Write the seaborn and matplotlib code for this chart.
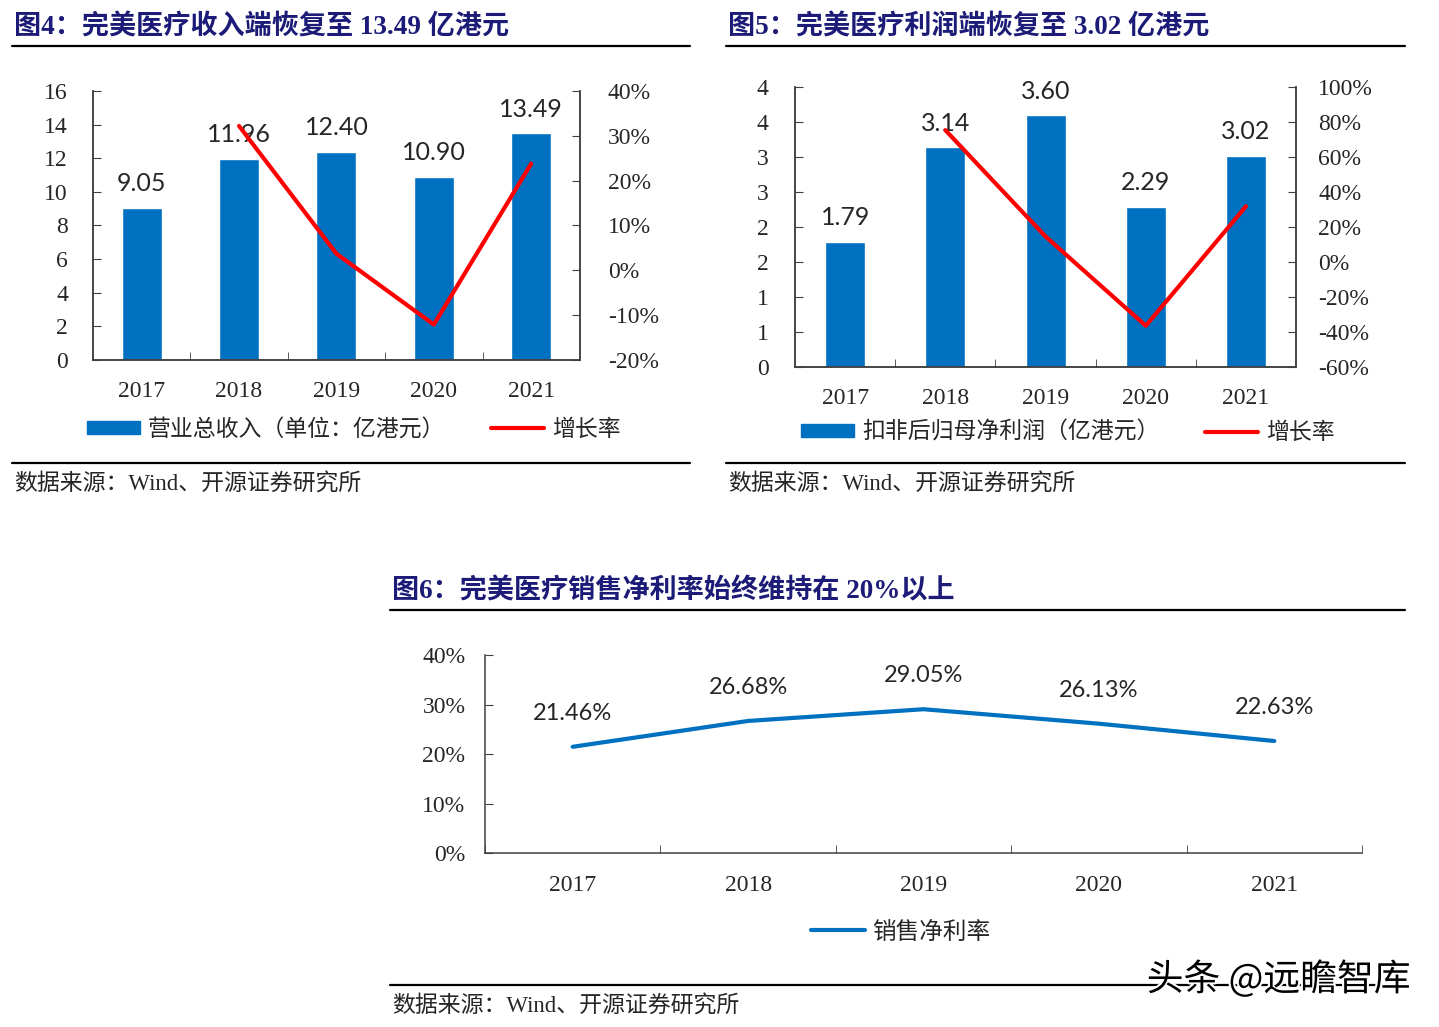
import numpy as np
import matplotlib
matplotlib.use("Agg")
import matplotlib.pyplot as plt
import matplotlib.patheffects as pe
from matplotlib.lines import Line2D
from matplotlib.patches import Patch
import seaborn as sns

# Data
years = ["2017", "2018", "2019", "2020", "2021"]
revenue = [9.05, 11.96, 12.40, 10.90, 13.49]          # 亿港元
revenue_growth = [32.2, 3.7, -12.1, 23.8]             # %, 2018-2021
profit = [1.79, 3.14, 3.60, 2.29, 3.02]               # 亿港元
profit_growth = [75.4, 14.6, -36.4, 31.9]             # %, 2018-2021
net_margin = [21.46, 26.68, 29.05, 26.13, 22.63]      # %

rev_ticks = [0, 2, 4, 6, 8, 10, 12, 14, 16]
rev_tick_labels = ["0", "2", "4", "6", "8", "10", "12", "14", "16"]
rev_growth_ticks = [-20, -10, 0, 10, 20, 30, 40]
profit_ticks = [0, 0.5, 1, 1.5, 2, 2.5, 3, 3.5, 4]
profit_tick_labels = ["0", "1", "1", "2", "2", "3", "3", "4", "4"]
profit_growth_ticks = [-60, -40, -20, 0, 20, 40, 60, 80, 100]
margin_ticks = [0, 10, 20, 30, 40]

BLUE = "#0070C0"
RED = "#FF0000"
NAVY = "#1c1c78"
SPINE = "#404040"
CJK = ["Noto Sans CJK SC"]
SERIF_CJK = ["Liberation Serif", "Noto Sans CJK SC"]

sns.set_style("white")
plt.rcParams["font.family"] = SERIF_CJK
plt.rcParams["axes.edgecolor"] = SPINE
plt.rcParams["axes.linewidth"] = 1.1

fig = plt.figure(figsize=(14.39, 10.27), dpi=100)


def bar_line_chart(rect, values, growth, yticks, ylabels, gticks, bar_w, lpad, rpad):
    ax = fig.add_axes(rect)
    sns.barplot(x=years, y=values, color=BLUE, width=bar_w, saturation=1, ax=ax)
    ax.set_xlim(-0.5, len(years) - 0.5)
    ax.set_ylim(yticks[0], yticks[-1])
    ax.set_yticks(yticks)
    ax.set_yticklabels(ylabels)
    ax.set_xlabel("")
    ax.set_ylabel("")
    ax.bar_label(ax.containers[0], fmt="%.2f", padding=9, fontsize=18, family="Lato")
    ax.set_xticks(np.arange(0.5, len(years) - 1, 1), minor=True)
    ax.tick_params(axis="x", which="major", length=0, pad=15, labelsize=17)
    ax.tick_params(axis="x", which="minor", direction="in", length=6, bottom=True, color=SPINE)
    ax.tick_params(axis="y", direction="in", length=6, left=True, pad=lpad, labelsize=17, color=SPINE)
    ax.spines["top"].set_visible(False)

    ax2 = ax.twinx()
    sns.lineplot(x=np.arange(1, len(years)), y=growth, color=RED, lw=3, ax=ax2)
    ax2.set_ylim(gticks[0], gticks[-1])
    ax2.set_yticks(gticks)
    ax2.set_yticklabels([f"{t}%" for t in gticks])
    ax2.set_ylabel("")
    ax2.tick_params(axis="y", direction="in", length=6, right=True, pad=rpad, labelsize=17, color=SPINE)
    ax2.spines["top"].set_visible(False)
    ax2.grid(False)
    return ax, ax2


# 图4
bar_line_chart([0.0646, 0.6495, 0.3384, 0.2619], revenue, revenue_growth,
               rev_ticks, rev_tick_labels, rev_growth_ticks, 0.41, 18, 20)
fig.legend(handles=[Patch(color=BLUE, label="营业总收入（单位：亿港元）"),
                    Line2D([], [], color=RED, lw=3, label="增长率")],
           loc="center", bbox_to_anchor=(0.246, 0.582), ncol=2, frameon=False,
           handlelength=2.3, handleheight=0.5, columnspacing=2.0, handletextpad=0.35,
           prop={"family": CJK, "size": 16.5})

# 图5
bar_line_chart([0.5525, 0.6426, 0.3482, 0.2726], profit, profit_growth,
               profit_ticks, profit_tick_labels, profit_growth_ticks, 0.4, 19, 16)
fig.legend(handles=[Patch(color=BLUE, label="扣非后归母净利润（亿港元）"),
                    Line2D([], [], color=RED, lw=3, label="增长率")],
           loc="center", bbox_to_anchor=(0.742, 0.579), ncol=2, frameon=False,
           handlelength=2.3, handleheight=0.5, columnspacing=2.0, handletextpad=0.35,
           prop={"family": CJK, "size": 16.5})

# 图6
ax3 = fig.add_axes([0.3370, 0.1694, 0.6095, 0.1928])
pos = np.arange(len(years))
sns.lineplot(x=pos, y=net_margin, color=BLUE, lw=3, ax=ax3)
ax3.set_xlim(-0.5, len(years) - 0.5)
ax3.set_ylim(margin_ticks[0], margin_ticks[-1])
ax3.set_yticks(margin_ticks)
ax3.set_yticklabels([f"{t}%" for t in margin_ticks])
ax3.set_xticks(pos)
ax3.set_xticklabels(years)
ax3.set_xticks(np.arange(-0.5, len(years), 1), minor=True)
ax3.tick_params(axis="x", which="major", length=0, pad=16, labelsize=17)
ax3.tick_params(axis="x", which="minor", direction="in", length=6, bottom=True, color=SPINE)
ax3.tick_params(axis="y", direction="in", length=6, left=True, pad=14, labelsize=17, color=SPINE)
ax3.spines["top"].set_visible(False)
ax3.spines["right"].set_visible(False)
for x, v in zip(pos, net_margin):
    ax3.annotate(f"{v:.2f}%", (x, v), xytext=(0, 24), textcoords="offset points",
                 ha="center", va="center", fontsize=17, family="Lato")
fig.legend(handles=[Line2D([], [], color=BLUE, lw=3, label="销售净利率")],
           loc="center", bbox_to_anchor=(0.626, 0.0925), frameon=False,
           handlelength=2.3, handletextpad=0.3, prop={"family": CJK, "size": 17})

# titles, rules and sources
titles = [(0.0097, 0.9737, "图4：完美医疗收入端恢复至 13.49 亿港元"),
          (0.506, 0.9737, "图5：完美医疗利润端恢复至 3.02 亿港元"),
          (0.2724, 0.4237, "图6：完美医疗销售净利率始终维持在 20%以上")]
for x, y, t in titles:
    fig.text(x, y, t, ha="left", va="center", fontsize=19.5, fontweight="bold",
             color=NAVY, family=SERIF_CJK)

rules = [((0.0083, 0.4795), 0.9552), ((0.5045, 0.9764), 0.9552),
         ((0.0083, 0.4795), 0.5492), ((0.5045, 0.9764), 0.5492),
         ((0.271, 0.9764), 0.406), ((0.271, 0.9764), 0.0409)]
for (x0, x1), y in rules:
    fig.add_artist(Line2D([x0, x1], [y, y], color="black", lw=1.6))

for x, y in [(0.0097, 0.5277), (0.506, 0.5277), (0.2724, 0.0195)]:
    fig.text(x, y, "数据来源：Wind、开源证券研究所", ha="left", va="center",
             fontsize=16.5, family=SERIF_CJK)

fig.text(0.98, 0.0458, "头条 @远瞻智库", ha="right", va="center", fontsize=26.5,
         family=CJK, color="black", zorder=10,
         path_effects=[pe.withStroke(linewidth=3, foreground="white")])

fig.savefig("out.png", dpi=100)
